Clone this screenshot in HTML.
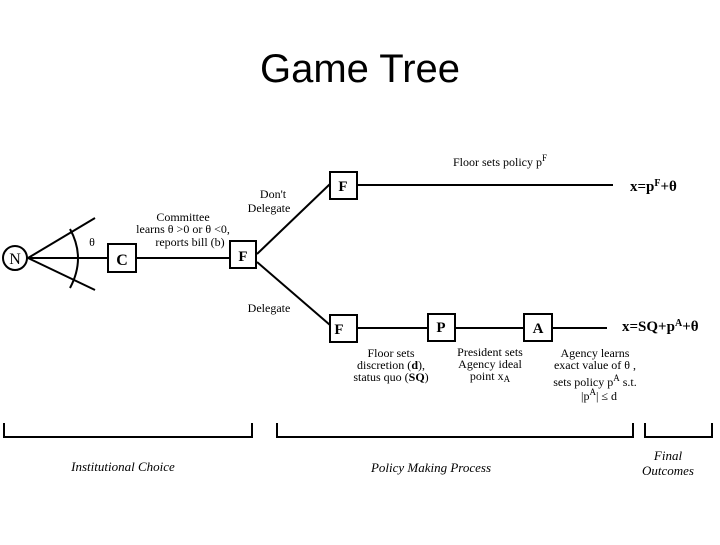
<!DOCTYPE html>
<html><head><meta charset="utf-8"><style>
body{margin:0;background:#fff;width:720px;height:540px;overflow:hidden}
svg text{font-family:"Liberation Serif",serif;fill:#000}
</style></head><body>
<svg width="720" height="540" viewBox="0 0 720 540">
<text x="360" y="82" text-anchor="middle" style="font-family:'Liberation Sans',sans-serif;font-size:40px">Game Tree</text>
<g stroke="#000" stroke-width="2" fill="none">
<circle cx="15" cy="258" r="12"/>
<line x1="28" y1="258" x2="95" y2="218"/>
<line x1="28" y1="258" x2="95" y2="290"/>
<line x1="28" y1="258" x2="108" y2="258"/>
<path d="M70 229 Q86 258 70 288"/>
<rect x="108" y="244" width="28" height="28"/>
<line x1="136" y1="258" x2="230" y2="258"/>
<rect x="230" y="241" width="26" height="27"/>
<line x1="257" y1="254" x2="330" y2="184"/>
<line x1="257" y1="262" x2="330" y2="325"/>
<rect x="330" y="172" width="27" height="27"/>
<line x1="357" y1="185" x2="613" y2="185"/>
<rect x="330" y="315" width="27" height="27"/>
<line x1="357" y1="328" x2="428" y2="328"/>
<rect x="428" y="314" width="27" height="27"/>
<line x1="455" y1="328" x2="524" y2="328"/>
<rect x="524" y="314" width="28" height="27"/>
<line x1="552" y1="328" x2="607" y2="328"/>
<path d="M4 423 V437 H252 V423"/>
<path d="M277 423 V437 H633 V423"/>
<path d="M645 423 V437 H712 V423"/>
</g>
<g font-size="15" text-anchor="middle">
<text x="15" y="264" font-size="16">N</text>
<text x="122" y="265" font-size="16" font-weight="bold">C</text>
<text x="243" y="261" font-weight="bold">F</text>
<text x="343" y="191" font-weight="bold">F</text>
<text x="339" y="334" font-weight="bold">F</text>
<text x="441" y="332" font-weight="bold">P</text>
<text x="538" y="333" font-weight="bold">A</text>
</g>
<g font-size="12" text-anchor="middle">
<text x="92" y="246">θ</text>
<text x="183" y="221">Committee</text>
<text x="183" y="233">learns θ &gt;0 or θ &lt;0,</text>
<text x="190" y="246">reports bill (b)</text>
<text x="273" y="198">Don't</text>
<text x="269" y="212">Delegate</text>
<text x="269" y="312">Delegate</text>
<text x="500" y="166">Floor sets policy p<tspan font-size="9" dy="-5">F</tspan></text>
<text x="391" y="357">Floor sets</text>
<text x="391" y="369">discretion (<tspan font-weight="bold">d</tspan>),</text>
<text x="391" y="381">status quo (<tspan font-weight="bold">SQ</tspan>)</text>
<text x="490" y="356">President sets</text>
<text x="490" y="368">Agency ideal</text>
<text x="490" y="380">point x<tspan font-size="9" dy="2">A</tspan></text>
<text x="595" y="357">Agency learns</text>
<text x="595" y="369">exact value of θ ,</text>
<text x="595" y="386">sets policy p<tspan font-size="9" dy="-5">A</tspan><tspan dy="5"> s.t.</tspan></text>
<text x="599" y="400">|p<tspan font-size="9" dy="-5">A</tspan><tspan dy="5">| ≤ d</tspan></text>
</g>
<g font-size="15">
<text x="630" y="191" font-weight="bold">x=p<tspan font-size="10" dy="-5">F</tspan><tspan dy="5">+θ</tspan></text>
<text x="622" y="331" font-weight="bold">x=SQ+p<tspan font-size="10" dy="-5">A</tspan><tspan dy="5">+θ</tspan></text>
</g>
<g font-size="13" font-style="italic" text-anchor="middle">
<text x="123" y="471">Institutional Choice</text>
<text x="431" y="472">Policy Making Process</text>
<text x="668" y="460">Final</text>
<text x="668" y="475">Outcomes</text>
</g>
</svg>
</body></html>
